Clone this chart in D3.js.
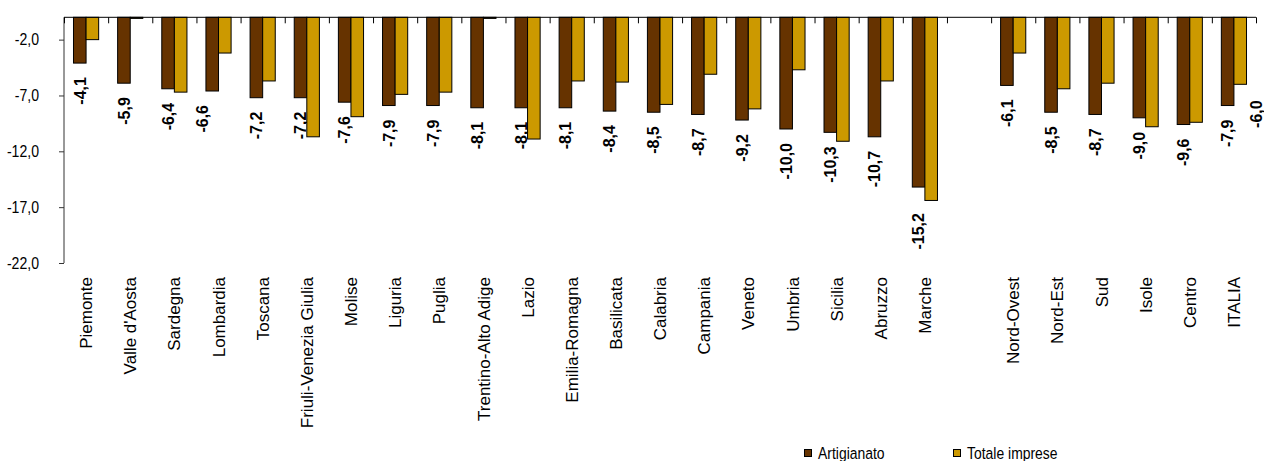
<!DOCTYPE html>
<html>
<head>
<meta charset="utf-8">
<script src="https://cdn.jsdelivr.net/npm/d3@7"></script>
<style>
  html, body { margin: 0; padding: 0; background: #fff; }
  svg { display: block; font-family: "Liberation Sans", Arial, sans-serif; }
</style>
</head>
<body>
<svg id="chart" width="1264" height="461"></svg>
<script>
// Regions, an empty spacer slot, then macro-areas and the national total
const categories = ["Piemonte", "Valle d'Aosta", "Sardegna", "Lombardia", "Toscana",
  "Friuli-Venezia Giulia", "Molise", "Liguria", "Puglia", "Trentino-Alto Adige", "Lazio",
  "Emilia-Romagna", "Basilicata", "Calabria", "Campania", "Veneto", "Umbria", "Sicilia",
  "Abruzzo", "Marche", "", "Nord-Ovest", "Nord-Est", "Sud", "Isole", "Centro", "ITALIA"];

const artigianato = [-4.1, -5.9, -6.4, -6.6, -7.2, -7.2, -7.6, -7.9, -7.9, -8.1, -8.1,
  -8.1, -8.4, -8.5, -8.7, -9.2, -10.0, -10.3, -10.7, -15.2, null,
  -6.1, -8.5, -8.7, -9.0, -9.6, -7.9];

const totaleImprese = [-2.0, -0.1, -6.7, -3.2, -5.7, -10.7, -8.9, -6.9, -6.7, -0.1, -10.9,
  -5.7, -5.8, -7.8, -5.1, -8.2, -4.7, -11.1, -5.7, -16.4, null,
  -3.2, -6.4, -5.9, -9.8, -9.4, -6.0];

const seriesNames = ["Artigianato", "Totale imprese"];
const seriesColors = ["#663300", "#CC9900"];
const yTicks = [-2, -7, -12, -17, -22];

// Hand-placed data labels (shifts in px)
const labelShift = { "Lombardia": { dx: -10, dy: 0 }, "Marche": { dx: 0, dy: 12 } };

const it = d3.formatLocale({ decimal: ",", thousands: ".", grouping: [3], currency: ["", "€"], minus: "-" });
const fmt = it.format(".1f");

const svg = d3.select("#chart");
const keys = categories.map((c, i) => c === "" ? "__gap" + i : c);

const plotLeft = 64, plotRight = 1256, plotTop = 17.3, plotBottom = 263;
const x0 = d3.scaleBand().domain(keys).range([plotLeft, plotRight]).padding(0);
const slot = x0.bandwidth();
const x1 = d3.scaleBand().domain(seriesNames).range([slot * 0.215, slot * 0.785]).padding(0);
const y = d3.scaleLinear().domain([-22, 0]).range([plotBottom, plotTop]);

const rows = keys.map((k, i) => ({ key: k, name: categories[i], vals: [artigianato[i], totaleImprese[i]] }));

// Y axis
const yAxis = svg.append("g")
  .attr("transform", `translate(${plotLeft},0)`)
  .call(d3.axisLeft(y).tickValues(yTicks).tickSize(5).tickFormat(""));
yAxis.select(".domain").attr("stroke", "#333").attr("d", `M0,${plotTop}V${plotBottom}`);
yAxis.selectAll(".tick line").attr("stroke", "#333");

svg.append("g").selectAll("text")
  .data(yTicks)
  .join("text")
  .attr("transform", d => `translate(39,${y(d)}) scale(0.88,1)`)
  .attr("text-anchor", "end")
  .attr("dy", "0.36em")
  .attr("font-size", 16)
  .attr("fill", "#000")
  .text(d => fmt(d));

// Data labels for Artigianato (drawn beneath the bars)
const labels = svg.append("g");
rows.forEach(r => {
  const v = r.vals[0];
  if (v == null) return;
  const s = labelShift[r.name] || { dx: 0, dy: 0 };
  const cx = x0(r.key) + x1("Artigianato") + x1.bandwidth() / 2 + s.dx;
  labels.append("text")
    .attr("transform", `translate(${cx},${y(v) + 14 + s.dy}) rotate(-90)`)
    .attr("text-anchor", "end")
    .attr("dy", "0.36em")
    .attr("font-size", 16)
    .attr("font-weight", "bold")
    .attr("fill", "#000")
    .text(fmt(v));
});
// National total label for Totale imprese
{
  const i = categories.indexOf("ITALIA");
  const v = totaleImprese[i];
  const cx = x0(keys[i]) + x1("Totale imprese") + x1.bandwidth() / 2 + 16;
  labels.append("text")
    .attr("transform", `translate(${cx},${y(v) + 16}) rotate(-90)`)
    .attr("text-anchor", "end")
    .attr("dy", "0.36em")
    .attr("font-size", 16)
    .attr("font-weight", "bold")
    .attr("fill", "#000")
    .text(fmt(v));
}

// Bars
const groups = svg.append("g").selectAll("g")
  .data(rows.filter(r => r.vals[0] != null))
  .join("g")
  .attr("transform", d => `translate(${x0(d.key)},0)`);

groups.selectAll("rect")
  .data(d => seriesNames.map((s, j) => ({ s, j, v: d.vals[j] })))
  .join("rect")
  .attr("x", d => x1(d.s))
  .attr("width", x1.bandwidth())
  .attr("y", y(0))
  .attr("height", d => y(d.v) - y(0))
  .attr("fill", d => seriesColors[d.j])
  .attr("stroke", "#000")
  .attr("stroke-width", 1);

// Category axis along zero, with ticks at slot boundaries
const idx = d3.scaleLinear().domain([0, keys.length]).range([plotLeft, plotRight]);
const xAxis = svg.append("g")
  .attr("transform", `translate(0,${y(0)})`)
  .call(d3.axisBottom(idx).tickValues(d3.range(0, keys.length + 1)).tickSize(6).tickFormat(""));
xAxis.select(".domain").attr("stroke", "#000").attr("d", `M${plotLeft},0H${plotRight}`);
xAxis.selectAll(".tick line").attr("stroke", "#000");

// Category names
svg.append("g").selectAll("text")
  .data(rows.filter(r => r.name !== ""))
  .join("text")
  .attr("transform", d => `translate(${x0(d.key) + slot / 2},277) rotate(-90)`)
  .attr("text-anchor", "end")
  .attr("dy", "0.36em")
  .attr("font-size", 17)
  .attr("fill", "#000")
  .text(d => d.name);

// Legend
const legendX = [804, 953];
const legend = svg.append("g").selectAll("g")
  .data(seriesNames)
  .join("g")
  .attr("transform", (d, i) => `translate(${legendX[i]},0)`);
legend.append("rect")
  .attr("x", 0.5).attr("y", 449.5).attr("width", 7).attr("height", 7)
  .attr("fill", (d, i) => seriesColors[i])
  .attr("stroke", "#000").attr("stroke-width", 1);
legend.append("text")
  .attr("transform", "translate(14,459) scale(0.82,1)")
  .attr("font-size", 17)
  .attr("fill", "#000")
  .text(d => d);
</script>
</body>
</html>
